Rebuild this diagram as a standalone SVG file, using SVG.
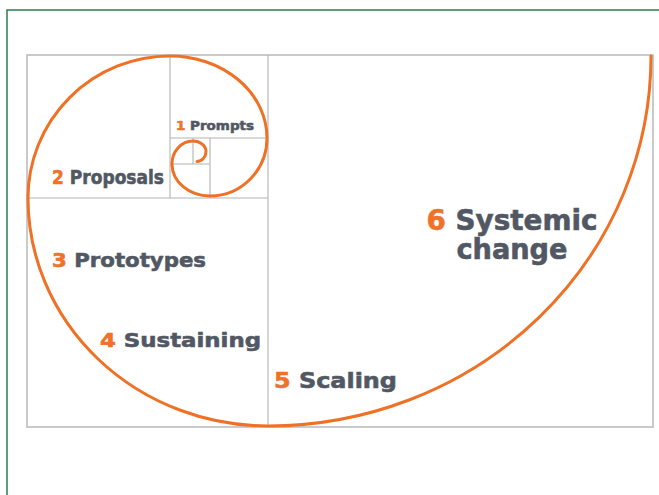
<svg xmlns="http://www.w3.org/2000/svg" width="659" height="495" viewBox="0 0 659 495">
  <style>
    .frame { fill: none; stroke: #2a7d4f; stroke-width: 1.5; }
    .box { fill: none; stroke: #bdbdbd; stroke-width: 1.6; }
    .grid { fill: none; stroke: #b3b3b3; stroke-width: 1.1; }
    .spiral { fill: none; stroke: #ef7125; stroke-width: 3; stroke-linecap: round; stroke-linejoin: round; }
    .label { font-family: "DejaVu Sans", "Liberation Sans", sans-serif; font-weight: bold; fill: #525863; stroke: #525863; stroke-width: 0.6; }
    .num { fill: #f0722a; stroke: #f0722a; }
  </style>

  <rect width="659" height="495" fill="#ffffff"/>
  <!-- page frame (continues past the right and bottom edges) -->
  <rect class="frame" x="7" y="10" width="700" height="520"/>

  <!-- golden-rectangle grid -->
  <g id="grid">
    <rect class="box" x="27" y="55" width="626" height="372"/>
    <line class="grid" x1="268" y1="55" x2="268" y2="427"/>
    <line class="grid" x1="27" y1="198" x2="268" y2="198"/>
    <line class="grid" x1="170" y1="55" x2="170" y2="198"/>
    <line class="grid" x1="170" y1="138" x2="268" y2="138"/>
    <line class="grid" x1="210" y1="138" x2="210" y2="198"/>
    <line class="grid" x1="170" y1="164" x2="210" y2="164"/>
    <line class="grid" x1="193" y1="138" x2="193" y2="164"/>
  </g>

  <!-- spiral through the squares -->
  <g id="connectors">
    <path class="spiral" d="M651,56 A383,370 0 0 1 268,426 A240,228 0 0 1 28,198 A142,142 0 0 1 170,56 A97,82 0 0 1 267,138 A57,58 0 0 1 210,196 A38,32 0 0 1 172,164 A21,23 0 0 1 193,141 A13,10.5 0 0 1 206,151.5 A9,10 0 0 1 197,161.5"/>
  </g>

  <g id="prompts">
    <text class="label" x="176" y="129.5" font-size="12.5" stroke-width="0.4" textLength="78" lengthAdjust="spacingAndGlyphs"><tspan class="num">1</tspan> Prompts</text>
  </g>
  <g id="proposals">
    <text class="label" x="52" y="183.5" font-size="19" textLength="112" lengthAdjust="spacingAndGlyphs"><tspan class="num">2</tspan> Proposals</text>
  </g>
  <g id="prototypes">
    <text class="label" x="52" y="267" font-size="20" textLength="154" lengthAdjust="spacingAndGlyphs"><tspan class="num">3</tspan> Prototypes</text>
  </g>
  <g id="sustaining">
    <text class="label" x="100" y="347" font-size="20" textLength="161" lengthAdjust="spacingAndGlyphs"><tspan class="num">4</tspan> Sustaining</text>
  </g>
  <g id="scaling">
    <text class="label" x="274" y="388" font-size="22" textLength="123" lengthAdjust="spacingAndGlyphs"><tspan class="num">5</tspan> Scaling</text>
  </g>
  <g id="systemic-change">
    <text class="label" x="426.5" y="229.5" font-size="27.5" stroke-width="0.8" textLength="171" lengthAdjust="spacingAndGlyphs"><tspan class="num">6</tspan> Systemic</text>
    <text class="label" x="456.5" y="259" font-size="27.5" stroke-width="0.8" textLength="111" lengthAdjust="spacingAndGlyphs">change</text>
  </g>
</svg>
